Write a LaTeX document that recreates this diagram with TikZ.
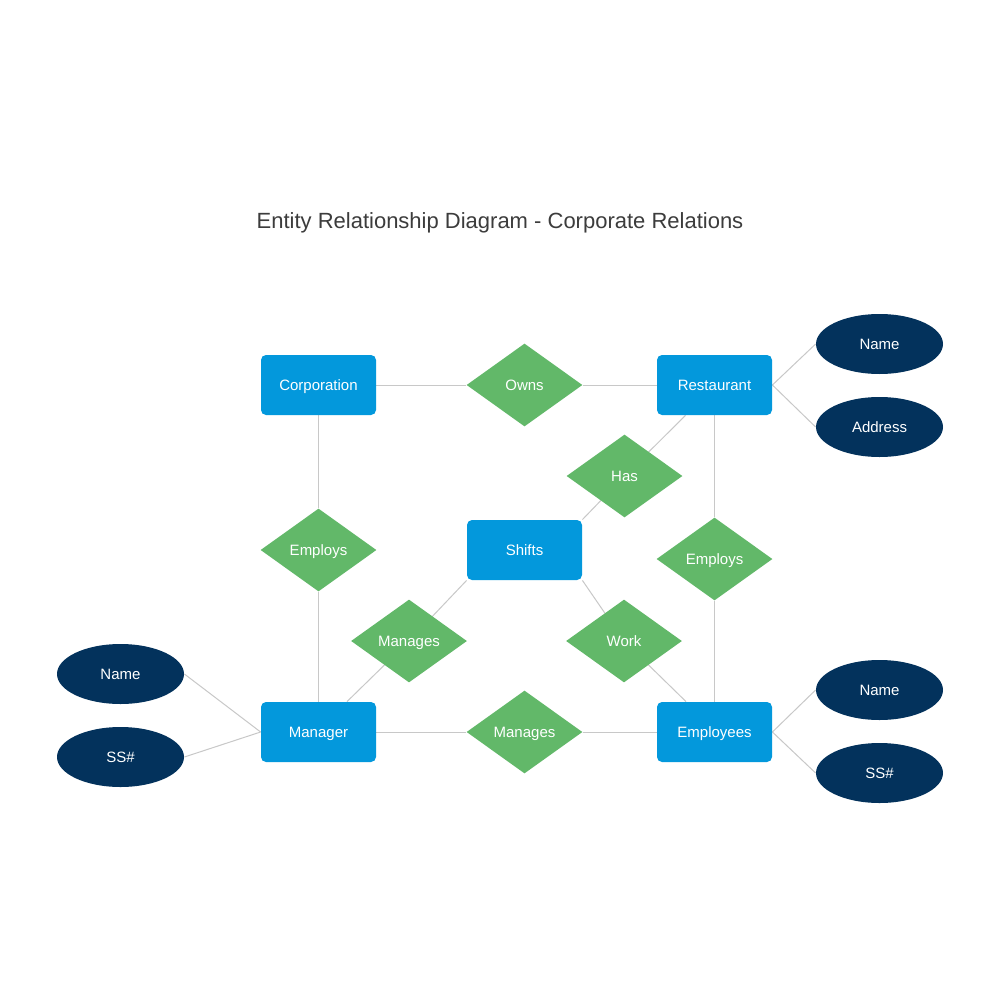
\documentclass[tikz,border=0pt]{standalone}
\usepackage{fontspec}
\setmainfont{Liberation Sans}
\usetikzlibrary{shapes.geometric,calc,backgrounds}
\definecolor{entblue}{HTML}{0398DC}
\definecolor{relgreen}{HTML}{62B869}
\definecolor{attnavy}{HTML}{03325C}
\definecolor{linegray}{HTML}{C8C8C8}
\definecolor{titlegray}{HTML}{3C3C3C}
\begin{document}
\begin{tikzpicture}[x=0.5pt,y=-0.5pt,
  lbl/.style={text=white, font=\fontsize{7.5}{9}\selectfont, text height=5.4pt, text depth=0pt, inner sep=0pt},
  entity/.style={lbl, rectangle, rounded corners=2.5pt, fill=entblue, minimum width=57.5pt, minimum height=30pt},
  relation/.style={lbl, diamond, fill=relgreen, minimum width=58pt, minimum height=41.5pt},
  attr/.style={lbl, ellipse, fill=attnavy, minimum width=63.5pt, minimum height=30pt},
  conn/.style={draw=linegray, line width=0.5pt}]
\useasboundingbox (0,0) rectangle (1000,1000);
\node[anchor=base, text=titlegray, font=\fontsize{11}{13}\selectfont, inner sep=0pt] (title) at (500,228) {Entity Relationship Diagram - Corporate Relations};
% entities
\node[entity] (corp) at (318.5,385) {Corporation};
\node[entity] (rest) at (714.5,385) {Restaurant};
\node[entity] (shifts) at (524.5,550) {Shifts};
\node[entity] (manager) at (318.5,732) {Manager};
\node[entity] (employees) at (714.5,732) {Employees};
% relationships
\node[relation] (owns) at (524.5,385) {Owns};
\node[relation] (has) at (624.5,476) {Has};
\node[relation] (employsl) at (318.5,550) {Employs};
\node[relation] (employsr) at (714.5,559) {Employs};
\node[relation] (managesu) at (409,641) {Manages};
\node[relation] (work) at (624,641) {Work};
\node[relation] (managesl) at (524.5,732) {Manages};
% attributes
\node[attr] (rname) at (879.5,344) {Name};
\node[attr] (raddr) at (879.5,427) {Address};
\node[attr] (ename) at (879.5,690) {Name};
\node[attr] (ess) at (879.5,773) {SS\#};
\node[attr] (mname) at (120.5,674) {Name};
\node[attr] (mss) at (120.5,757) {SS\#};
% connectors
\begin{scope}[on background layer]
\fill[white] (0,0) rectangle (1000,1000);
\draw[conn] (corp) -- (owns) -- (rest);
\draw[conn] (corp) -- (employsl) -- (manager);
\draw[conn] (rest) -- (employsr) -- (employees);
\draw[conn] ($(rest.south)+(-29,0)$) -- (has.center) -- (shifts.north east);
\draw[conn] (shifts.south west) -- (managesu.center) -- ($(manager.north)+(28.5,0)$);
\draw[conn] (shifts.south east) -- (work.center) -- ($(employees.north)+(-28.5,0)$);
\draw[conn] (manager) -- (managesl) -- (employees);
\draw[conn] (mname.east) -- (manager.west);
\draw[conn] (mss.east) -- (manager.west);
\draw[conn] (rest.east) -- (rname.west);
\draw[conn] (rest.east) -- (raddr.west);
\draw[conn] (employees.east) -- (ename.west);
\draw[conn] (employees.east) -- (ess.west);
\end{scope}
\end{tikzpicture}
\end{document}
